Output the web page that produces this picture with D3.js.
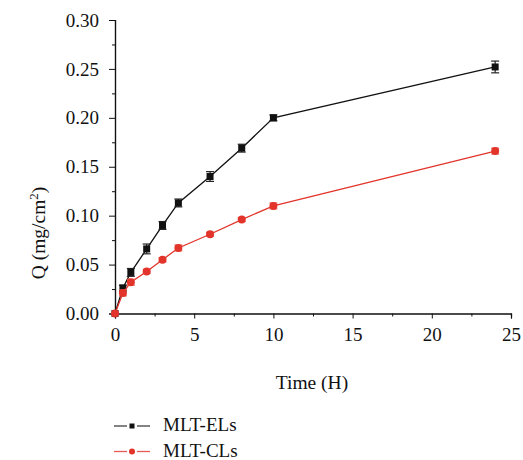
<!DOCTYPE html>
<html>
<head>
<meta charset="utf-8">
<script src="https://cdn.jsdelivr.net/npm/d3@7"></script>
<style>
  body { margin: 0; background: #fff; }
  text { font-family: "Liberation Serif", "DejaVu Serif", serif; fill: #111; }
</style>
</head>
<body>
<svg id="chart" width="523" height="460"></svg>
<script>
// time points (H)
const times = [0, 0.5, 1, 2, 3, 4, 6, 8, 10, 24];
// cumulative Q (mg/cm2) and error bars
const elsValues = [0, 0.026, 0.042, 0.066, 0.090, 0.113, 0.140, 0.169, 0.200, 0.252];
const elsErrors = [0, 0.003, 0.004, 0.005, 0.004, 0.004, 0.005, 0.004, 0.003, 0.006];
const clsValues = [0, 0.021, 0.032, 0.043, 0.055, 0.067, 0.081, 0.096, 0.110, 0.166];
const clsErrors = [0, 0.003, 0.003, 0.002, 0.002, 0.003, 0.002, 0.002, 0.003, 0.003];
const seriesNames = ['MLT-ELs', 'MLT-CLs'];
const xTicks = [0, 5, 10, 15, 20, 25];
const yTicks = [0, 0.05, 0.10, 0.15, 0.20, 0.25, 0.30];

const svg = d3.select('#chart');
const x = d3.scaleLinear([0, 25], [115, 511]);
const y = d3.scaleLinear([0, 0.30], [313.5, 20]);

const series = [
    {name: seriesNames[0], values: elsValues, errors: elsErrors, color: '#111', bar: '#222', shape: 'square'},
    {name: seriesNames[1], values: clsValues, errors: clsErrors, color: '#e2342a', bar: '#e86a60', shape: 'circle'}
];

// axes
const g = svg.append('g');
const xAxis = d3.axisBottom(x).tickValues(xTicks).tickSize(5).tickPadding(9).tickFormat(d3.format('d'));
const xMinor = d3.axisBottom(x).tickValues(d3.range(2.5, 25, 5)).tickSize(3).tickFormat('');
const yAxis = d3.axisLeft(y).tickValues(yTicks).tickSize(6).tickPadding(10).tickFormat(d3.format('.2f'));
const yMinor = d3.axisLeft(y).tickValues(d3.range(0.025, 0.30, 0.05)).tickSize(3).tickFormat('');

g.append('g').attr('transform', 'translate(0,313.5)').call(xMinor);
g.append('g').attr('transform', 'translate(0,313.5)').call(xAxis);
g.append('g').attr('transform', 'translate(115,0)').call(yMinor);
g.append('g').attr('transform', 'translate(115,0)').call(yAxis);
g.selectAll('.domain').attr('stroke', '#111').attr('stroke-width', 1.2);
g.selectAll('.tick line').attr('stroke', '#111').attr('stroke-width', 1);
g.selectAll('.tick text').style('font-size', '19px').style('font-family', '"Liberation Serif", serif').attr('fill', '#111');

// axis titles
svg.append('text')
    .attr('x', 312).attr('y', 389)
    .attr('text-anchor', 'middle')
    .style('font-size', '19.5px')
    .text('Time (H)');

const yTitle = svg.append('text')
    .attr('transform', 'translate(45,233) rotate(-90)')
    .attr('text-anchor', 'middle')
    .style('font-size', '19.5px');
yTitle.append('tspan').text('Q (mg/cm');
yTitle.append('tspan').attr('dy', -7).style('font-size', '13px').text('2');
yTitle.append('tspan').attr('dy', 7).text(')');

// series
const line = d3.line().x((d, i) => x(times[i])).y(d => y(d));

series.forEach(s => {
    const sg = svg.append('g');
    sg.append('path')
        .datum(s.values)
        .attr('fill', 'none')
        .attr('stroke', s.color)
        .attr('stroke-width', 1.3)
        .attr('d', line);

    // error bars
    const eb = sg.selectAll('.eb').data(s.values).join('g');
    eb.append('line')
        .attr('x1', (d, i) => x(times[i])).attr('x2', (d, i) => x(times[i]))
        .attr('y1', (d, i) => y(d - s.errors[i])).attr('y2', (d, i) => y(d + s.errors[i]))
        .attr('stroke', s.bar).attr('stroke-width', 1.2);
    [-1, 1].forEach(sign => {
        eb.append('line')
            .attr('x1', (d, i) => x(times[i]) - 4).attr('x2', (d, i) => x(times[i]) + 4)
            .attr('y1', (d, i) => y(d + sign * s.errors[i])).attr('y2', (d, i) => y(d + sign * s.errors[i]))
            .attr('stroke', s.bar).attr('stroke-width', 1.2)
            .attr('display', (d, i) => s.errors[i] > 0 ? null : 'none');
    });

    // markers
    if (s.shape === 'square') {
        sg.selectAll('.m').data(s.values).join('rect')
            .attr('x', (d, i) => x(times[i]) - 3.5).attr('y', d => y(d) - 3.5)
            .attr('width', 7).attr('height', 7)
            .attr('fill', s.color);
    } else {
        sg.selectAll('.m').data(s.values).join('circle')
            .attr('cx', (d, i) => x(times[i])).attr('cy', d => y(d))
            .attr('r', 4)
            .attr('fill', s.color);
    }
});

// legend (pulled up a touch so the second row is not clipped)
const legend = svg.append('g').selectAll('g').data(series).join('g')
    .attr('transform', (d, i) => 'translate(0,' + (426 + i * 25.5) + ')');
legend.append('line').attr('x1', 114).attr('x2', 127).attr('stroke', d => d.color).attr('stroke-width', 1.3).attr('opacity', 0.8);
legend.append('line').attr('x1', 137).attr('x2', 150).attr('stroke', d => d.color).attr('stroke-width', 1.3).attr('opacity', 0.8);
legend.filter(d => d.shape === 'square').append('rect')
    .attr('x', 129.5).attr('y', -2.5).attr('width', 5).attr('height', 5).attr('fill', d => d.color);
legend.filter(d => d.shape === 'circle').append('circle')
    .attr('cx', 132).attr('r', 3).attr('fill', d => d.color);
legend.append('text')
    .attr('x', 163).attr('y', 5)
    .style('font-size', '19px')
    .text(d => d.name);
</script>
</body>
</html>
